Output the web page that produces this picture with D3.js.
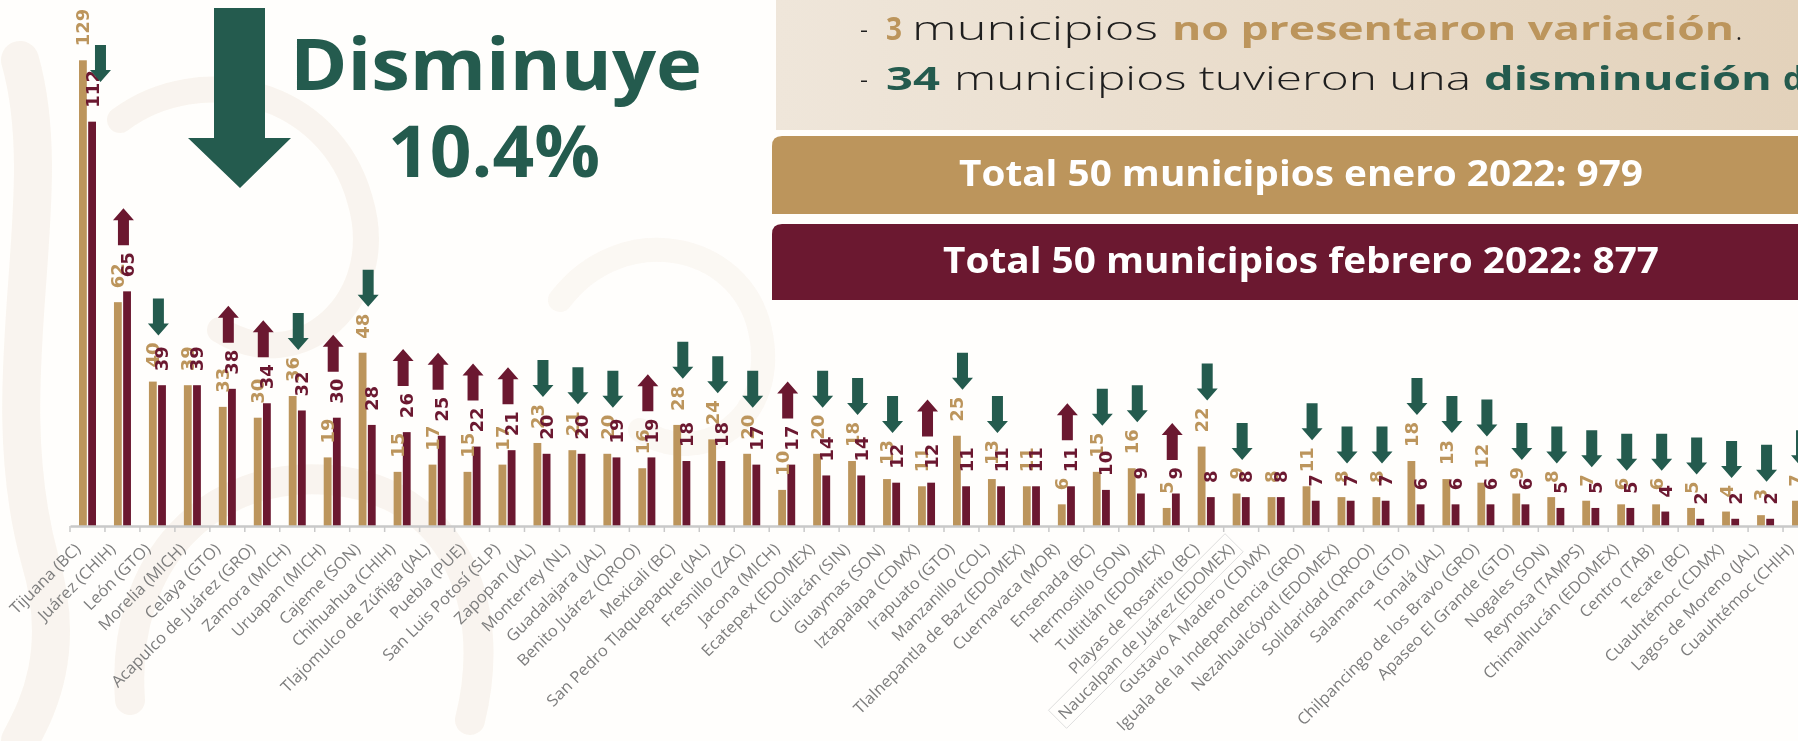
<!DOCTYPE html>
<html>
<head>
<meta charset="utf-8">
<script src="https://cdn.jsdelivr.net/npm/d3@7"></script>
<style>
html, body { margin: 0; padding: 0; background: #fff; overflow: hidden; }
svg { display: block; }
</style>
</head>
<body>
<div class="container"></div>
<script>
const WIDTH = 1798;
const HEIGHT = 741;

// municipios, ordenados como en la gráfica
const categories = [
    "Tijuana (BC)", "Juárez (CHIH)", "León (GTO)", "Morelia (MICH)", "Celaya (GTO)",
    "Acapulco de Juárez (GRO)", "Zamora (MICH)", "Uruapan (MICH)", "Cajeme (SON)", "Chihuahua (CHIH)",
    "Tlajomulco de Zúñiga (JAL)", "Puebla (PUE)", "San Luis Potosí (SLP)", "Zapopan (JAL)", "Monterrey (NL)",
    "Guadalajara (JAL)", "Benito Juárez (QROO)", "Mexicali (BC)", "San Pedro Tlaquepaque (JAL)", "Fresnillo (ZAC)",
    "Jacona (MICH)", "Ecatepex (EDOMEX)", "Culiacán (SIN)", "Guaymas (SON)", "Iztapalapa (CDMX)",
    "Irapuato (GTO)", "Manzanillo (COL)", "Tlalnepantla de Baz (EDOMEX)", "Cuernavaca (MOR)", "Ensenada (BC)",
    "Hermosillo (SON)", "Tultitlán (EDOMEX)", "Playas de Rosarito (BC)", "Naucalpan de Juárez (EDOMEX)", "Gustavo A Madero (CDMX)",
    "Iguala de la Independencia (GRO)", "Nezahualcóyotl (EDOMEX)", "Solidaridad (QROO)", "Salamanca (GTO)", "Tonalá (JAL)",
    "Chilpancingo de los Bravo (GRO)", "Apaseo El Grande (GTO)", "Nogales (SON)", "Reynosa (TAMPS)", "Chimalhucán (EDOMEX)",
    "Centro (TAB)", "Tecate (BC)", "Cuauhtémoc (CDMX)", "Lagos de Moreno (JAL)", "Cuauhtémoc (CHIH)"
];

const enero = [
    129, 62, 40, 39, 33, 30, 36, 19, 48, 15,
    17, 15, 17, 23, 21, 20, 16, 28, 24, 20,
    10, 20, 18, 13, 11, 25, 13, 11, 6, 15,
    16, 5, 22, 9, 8, 11, 8, 8, 18, 13,
    12, 9, 8, 7, 6, 6, 5, 4, 3, 7
];

const febrero = [
    112, 65, 39, 39, 38, 34, 32, 30, 28, 26,
    25, 22, 21, 20, 20, 19, 19, 18, 18, 17,
    17, 14, 14, 12, 12, 11, 11, 11, 11, 10,
    9, 9, 8, 8, 8, 7, 7, 7, 6, 6,
    6, 6, 5, 5, 5, 4, 2, 2, 2, 0
];

const seriesNames = ["enero", "febrero"];

const GOLD = "#bc955c";
const MAROON = "#6b1830";
const GREEN = "#245b4e";
const DARK = "#1e1e1e";

var rows = categories.map(function(c, i){
    return {name: c, i: i, enero: enero[i], febrero: febrero[i]};
});

var drawBackground = function(svg){
    svg.append("rect").attr("width", WIDTH).attr("height", HEIGHT).attr("fill", "#fffefc");
    // marca de agua muy tenue
    var wm = svg.append("g").attr("fill", "none").attr("stroke", "#f8f2eb").attr("stroke-linecap", "round").attr("opacity", 0.8);
    wm.append("path").attr("d", "M20,60 C60,200 -10,380 40,560 C70,660 30,720 20,741").attr("stroke-width", 38);
    wm.append("path").attr("d", "M130,700 C120,560 210,470 330,480 C450,490 500,600 470,720").attr("stroke-width", 30);
    wm.append("path").attr("d", "M120,120 C200,60 330,90 360,200 C390,300 300,380 220,330").attr("stroke-width", 26);
    wm.append("path").attr("d", "M560,300 C620,220 740,240 760,330 C780,420 700,470 640,430").attr("stroke-width", 24).attr("opacity", 0.7);
};

var drawPanel = function(svg){
    var defs = svg.append("defs");
    var grad = defs.append("linearGradient").attr("id", "panelGrad")
        .attr("x1", "0%").attr("x2", "100%").attr("y1", "0%").attr("y2", "0%");
    grad.append("stop").attr("offset", "0%").attr("stop-color", "#efe6da");
    grad.append("stop").attr("offset", "100%").attr("stop-color", "#e3d2bb");

    svg.append("rect")
        .attr("x", 776).attr("y", 0)
        .attr("width", WIDTH - 776).attr("height", 130)
        .attr("fill", "url(#panelGrad)");

    var sinCambio = rows.filter(function(d){ return d.enero === d.febrero; }).length;
    var bajan = rows.filter(function(d){ return d.febrero < d.enero; }).length;

    var segs = [
        {t: "-", x: 860, w: 8, y: 40, c: DARK, b: 300},
        {t: String(sinCambio), x: 886, w: 16, y: 40, c: GOLD, b: 700},
        {t: "municipios", x: 912, w: 246, y: 40, c: DARK, b: 300},
        {t: "no presentaron variación", x: 1172, w: 562, y: 40, c: GOLD, b: 700},
        {t: ".", x: 1735, w: 0, y: 40, c: DARK, b: 300},
        {t: "-", x: 860, w: 8, y: 90, c: DARK, b: 300},
        {t: String(bajan), x: 886, w: 54, y: 90, c: GREEN, b: 700},
        {t: "municipios tuvieron una", x: 954, w: 517, y: 90, c: DARK, b: 300},
        {t: "disminución", x: 1484, w: 288, y: 90, c: GREEN, b: 700},
        {t: "de", x: 1783, w: 0, y: 90, c: GREEN, b: 700}
    ];
    var t = svg.append("g").selectAll("text").data(segs).enter().append("text")
        .attr("x", function(d){ return d.x; })
        .attr("y", function(d){ return d.y; })
        .attr("fill", function(d){ return d.c; })
        .attr("font-weight", function(d){ return d.b; })
        .style("font-family", "'Open Sans', 'Noto Sans', sans-serif")
        .style("font-size", "33px")
        .text(function(d){ return d.t; });
    t.filter(function(d){ return d.w > 0; })
        .attr("textLength", function(d){ return d.w; })
        .attr("lengthAdjust", "spacingAndGlyphs");

    // cajas de totales
    var boxes = [
        {y0: 136, y1: 214, fill: GOLD, text: "Total 50 municipios enero 2022: " + d3.sum(enero), tx: 959, tw: 684, ty: 186},
        {y0: 224, y1: 300, fill: MAROON, text: "Total 50 municipios febrero 2022: " + d3.sum(febrero), tx: 943, tw: 716, ty: 273}
    ];
    var g = svg.append("g");
    g.selectAll("path").data(boxes).enter().append("path")
        .attr("d", function(d){
            var r = 10, x0 = 772, x1 = WIDTH + 5;
            return "M" + x0 + "," + d.y1 + " V" + (d.y0 + r) + " Q" + x0 + "," + d.y0 + " " + (x0 + r) + "," + d.y0 +
                " H" + x1 + " V" + d.y1 + " Z";
        })
        .attr("fill", function(d){ return d.fill; });
    g.selectAll("text").data(boxes).enter().append("text")
        .attr("x", function(d){ return d.tx; })
        .attr("y", function(d){ return d.ty; })
        .attr("textLength", function(d){ return d.tw; })
        .attr("lengthAdjust", "spacingAndGlyphs")
        .attr("fill", "#ffffff")
        .attr("font-weight", 700)
        .style("font-family", "'Open Sans', 'Noto Sans', sans-serif")
        .style("font-size", "35px")
        .text(function(d){ return d.text; });
};

var drawHeadline = function(svg){
    var cambio = (d3.sum(enero) - d3.sum(febrero)) / d3.sum(enero) * 100;
    svg.append("path")
        .attr("d", "M214,8 H265 V138 H291 L240,188 L188,138 H214 Z")
        .attr("fill", GREEN);
    var lines = [
        {t: "Disminuye", x: 290, w: 412, y: 90},
        {t: cambio.toFixed(1) + "%", x: 388, w: 212, y: 177}
    ];
    svg.append("g").selectAll("text").data(lines).enter().append("text")
        .attr("x", function(d){ return d.x; })
        .attr("y", function(d){ return d.y; })
        .attr("textLength", function(d){ return d.w; })
        .attr("lengthAdjust", "spacingAndGlyphs")
        .attr("fill", GREEN)
        .attr("font-weight", 700)
        .style("font-family", "'Open Sans', 'Noto Sans', sans-serif")
        .style("font-size", "72px")
        .text(function(d){ return d.t; });
};

var drawChart = function(svg){
    var step = 34.96;
    var x = d3.scaleBand().domain(categories).range([70, 70 + step * categories.length]).padding(0);
    var x1 = d3.scaleBand().domain(seriesNames).range([9, 26]).paddingInner(0.15);
    var y = d3.scaleLinear().domain([0, 129]).range([526, 60.3]);
    var colors = {enero: GOLD, febrero: MAROON};

    var groups = svg.append("g").selectAll("g.cat").data(rows).enter().append("g")
        .attr("class", "cat")
        .attr("transform", function(d){ return "translate(" + x(d.name) + ",0)"; });

    // barras
    groups.selectAll("rect").data(function(d){
        return seriesNames.map(function(s){ return {s: s, v: d[s]}; });
    }).enter().append("rect")
        .attr("x", function(d){ return x1(d.s); })
        .attr("width", x1.bandwidth())
        .attr("y", function(d){ return y(d.v); })
        .attr("height", function(d){ return y(0) - y(d.v); })
        .attr("fill", function(d){ return colors[d.s]; });

    // eje
    var axis = svg.append("g")
        .attr("transform", "translate(0," + y(0) + ")")
        .call(d3.axisBottom(x).tickSize(0).tickPadding(0));
    axis.select(".domain").attr("stroke", "#c9c9c9").attr("stroke-width", 2.5);
    axis.selectAll(".tick text")
        .attr("x", 0).attr("y", 0).attr("dy", 0)
        .attr("text-anchor", "end")
        .attr("transform", "translate(-6,24) rotate(-45) scale(1.04,1)")
        .attr("fill", "#7d7d7d")
        .style("font-family", "'Open Sans', 'Noto Sans', sans-serif")
        .style("font-size", "16px");
    axis.selectAll(".tick")
        .filter(function(d){ return d === "Naucalpan de Juárez (EDOMEX)"; })
        .each(function(){
            var tx = d3.select(this).select("text");
            var bb = tx.node().getBBox();
            d3.select(this).append("rect")
                .attr("x", bb.x - 4).attr("y", bb.y - 2)
                .attr("width", bb.width + 8).attr("height", bb.height + 4)
                .attr("transform", tx.attr("transform"))
                .attr("fill", "none").attr("stroke", "#d9d9d9").attr("stroke-width", 0.8);
        });
    svg.append("g").selectAll("line").data(categories).enter().append("line")
        .attr("x1", function(d){ return x(d); })
        .attr("x2", function(d){ return x(d); })
        .attr("y1", y(0)).attr("y2", y(0) + 6)
        .attr("stroke", "#c9c9c9").attr("stroke-width", 1.5);

    // etiquetas de valor
    groups.each(function(d){
        var g = d3.select(this);
        var tops = {};
        seriesNames.forEach(function(s){
            var cx = x1(s) + x1.bandwidth() / 2;
            var lbl = g.append("text")
                .attr("transform", "translate(" + cx + "," + (y(d[s]) - 14) + ") rotate(-90)")
                .attr("dy", "0.36em")
                .attr("text-anchor", "start")
                .attr("fill", colors[s])
                .attr("font-weight", 700)
                .style("font-family", "'DejaVu Sans', sans-serif")
                .style("font-size", "18px")
                .text(d[s]);
            tops[s] = y(d[s]) - 14 - lbl.node().getComputedTextLength();
        });
        if (d.enero === d.febrero) return;
        var down = d.febrero < d.enero;
        var cx = x.bandwidth() / 2 + 1;
        var top = Math.min(tops.enero, tops.febrero) - 7 - 37;
        if (top < 45) { top = 45; cx += 12; }
        var p = down
            ? "M-5.5," + top + " V" + (top + 25) + " H-10.5 L0," + (top + 37) + " L10.5," + (top + 25) + " H5.5 V" + top + " Z"
            : "M0," + top + " L10.5," + (top + 12) + " H5.5 V" + (top + 37) + " H-5.5 V" + (top + 12) + " H-10.5 Z";
        g.append("path")
            .attr("transform", "translate(" + cx + ",0)")
            .attr("d", p)
            .attr("fill", down ? GREEN : MAROON);
    });
};

var load = function(){
    var svg = d3.select(".container").append("svg")
        .attr("width", WIDTH)
        .attr("height", HEIGHT);
    drawBackground(svg);
    drawHeadline(svg);
    drawChart(svg);
    drawPanel(svg);
};

window.onload = load;
</script>
</body>
</html>
